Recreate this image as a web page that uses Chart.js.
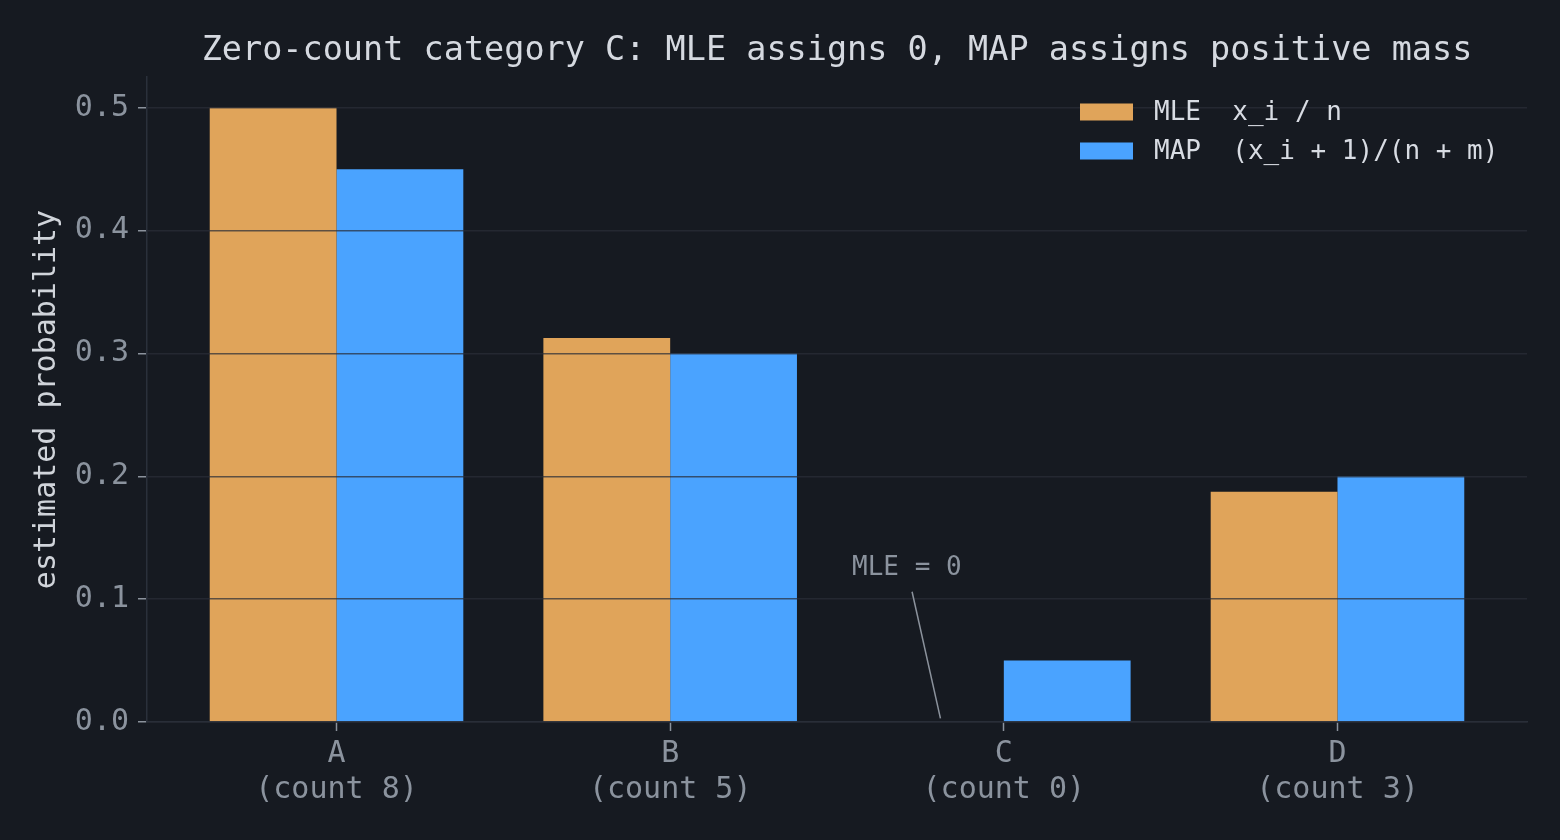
<!DOCTYPE html>
<html>
<head>
<meta charset="utf-8">
<script src="https://cdn.jsdelivr.net/npm/chart.js@4"></script>
<style>
    html, body { margin: 0; padding: 0; background: #161a21; }
    #wrap { width: 1560px; height: 840px; }
</style>
</head>
<body>
<div id="wrap"><canvas id="probChart" width="1560" height="840"></canvas></div>
<script>
// ================================
// DATA
// ================================
const categories = ["A", "B", "C", "D"];
const counts = [8, 5, 0, 3];
const mleValues = [0.5, 0.3125, 0, 0.1875];
const mapValues = [0.45, 0.3, 0.05, 0.2];
const yTicks = [0, 0.1, 0.2, 0.3, 0.4, 0.5];
const seriesLabels = ["MLE  x_i / n", "MAP  (x_i + 1)/(n + m)"];
const titleText = "Zero-count category C: MLE assigns 0, MAP assigns positive mass";
const yTitle = "estimated probability";
// annotation (data units)
const noteText = "MLE = 0";
const noteTextAt = [1.545, 0.12];
const noteLineFrom = [1.725, 0.106];
const noteLineTo = [1.81, 0.003];

const FONT = "'DejaVu Sans Mono', monospace";
const ORANGE = "#e0a45a";
const BLUE = "#4aa3ff";

document.addEventListener("DOMContentLoaded", () => {

    /* ------------------------------
       TITLE, LEGEND, ANNOTATION
    ------------------------------ */
    const overlay = {
        id: "overlay",
        afterDraw(chart) {
            const c = chart.ctx;
            const area = chart.chartArea;
            const x = chart.scales.x, y = chart.scales.y;
            c.save();

            // title
            c.font = "33.5px " + FONT;
            c.fillStyle = "#d5d9e0";
            c.textAlign = "center";
            c.textBaseline = "middle";
            c.fillText(titleText, (area.left + area.right) / 2, 51);

            // legend
            const colors = [ORANGE, BLUE];
            c.font = "26px " + FONT;
            c.textAlign = "left";
            seriesLabels.forEach((lab, i) => {
                const cy = 112 + i * 39;
                c.fillStyle = colors[i];
                c.fillRect(1080, cy - 8.5, 53, 17);
                c.fillStyle = "#d8dce3";
                c.fillText(lab, 1154, cy + 1);
            });

            // annotation
            c.strokeStyle = "#8b929c";
            c.lineWidth = 1.5;
            c.beginPath();
            c.moveTo(x.getPixelForValue(noteLineFrom[0]), y.getPixelForValue(noteLineFrom[1]));
            c.lineTo(x.getPixelForValue(noteLineTo[0]), y.getPixelForValue(noteLineTo[1]));
            c.stroke();
            c.fillStyle = "#8b939e";
            c.textBaseline = "alphabetic";
            c.fillText(noteText, x.getPixelForValue(noteTextAt[0]), y.getPixelForValue(noteTextAt[1]));

            c.restore();
        }
    };

    const bg = {
        id: "bg",
        beforeDraw(chart) {
            const c = chart.ctx;
            c.save();
            c.fillStyle = "#161a21";
            c.fillRect(0, 0, chart.width, chart.height);
            c.restore();
        }
    };

    new Chart(document.getElementById("probChart"), {
        type: "bar",
        data: {
            datasets: [
                {
                    label: seriesLabels[0],
                    data: categories.map((c, i) => ({ x: i, y: mleValues[i] })),
                    backgroundColor: ORANGE
                },
                {
                    label: seriesLabels[1],
                    data: categories.map((c, i) => ({ x: i, y: mapValues[i] })),
                    backgroundColor: BLUE
                }
            ]
        },
        options: {
            responsive: false,
            animation: false,
            devicePixelRatio: 1,
            categoryPercentage: 0.76,
            barPercentage: 1.0,
            borderWidth: 0,
            layout: { padding: { top: 77, right: 33, left: 0, bottom: 0 } },
            plugins: {
                legend: { display: false },
                title: { display: false },
                tooltip: { enabled: false }
            },
            scales: {
                x: {
                    type: "linear",
                    min: -0.568,
                    max: 3.568,
                    offset: false,
                    afterFit: s => { s.height = 118; },
                    afterBuildTicks: s => { s.ticks = categories.map((c, i) => ({ value: i })); },
                    ticks: {
                        font: { family: FONT, size: 30 },
                        color: "#8b939e",
                        padding: 5,
                        maxRotation: 0,
                        callback: v => [categories[v], "(count " + counts[v] + ")"]
                    },
                    grid: {
                        offset: false,
                        drawOnChartArea: false,
                        tickLength: 9,
                        tickColor: "#8b929c",
                        tickWidth: 1.5
                    },
                    border: { color: "#2a303b", width: 1.5 }
                },
                y: {
                    min: 0,
                    max: 0.525,
                    afterFit: s => { s.width = 147; },
                    afterBuildTicks: s => { s.ticks = yTicks.map(v => ({ value: v })); },
                    ticks: {
                        font: { family: FONT, size: 30 },
                        color: "#8b939e",
                        padding: 9,
                        callback: v => Number(v).toFixed(1)
                    },
                    grid: {
                        z: 1,
                        color: "rgba(42,46,56,0.72)",
                        lineWidth: 1.5,
                        tickLength: 9,
                        tickColor: "#8b929c",
                        tickWidth: 1.5
                    },
                    border: { z: 1, color: "#2a303b", width: 1.5 },
                    title: {
                        display: true,
                        text: yTitle,
                        font: { family: FONT, size: 30 },
                        color: "#d0d4da",
                        padding: { top: 29, bottom: 0 }
                    }
                }
            }
        },
        plugins: [bg, overlay]
    });
});
</script>
</body>
</html>
